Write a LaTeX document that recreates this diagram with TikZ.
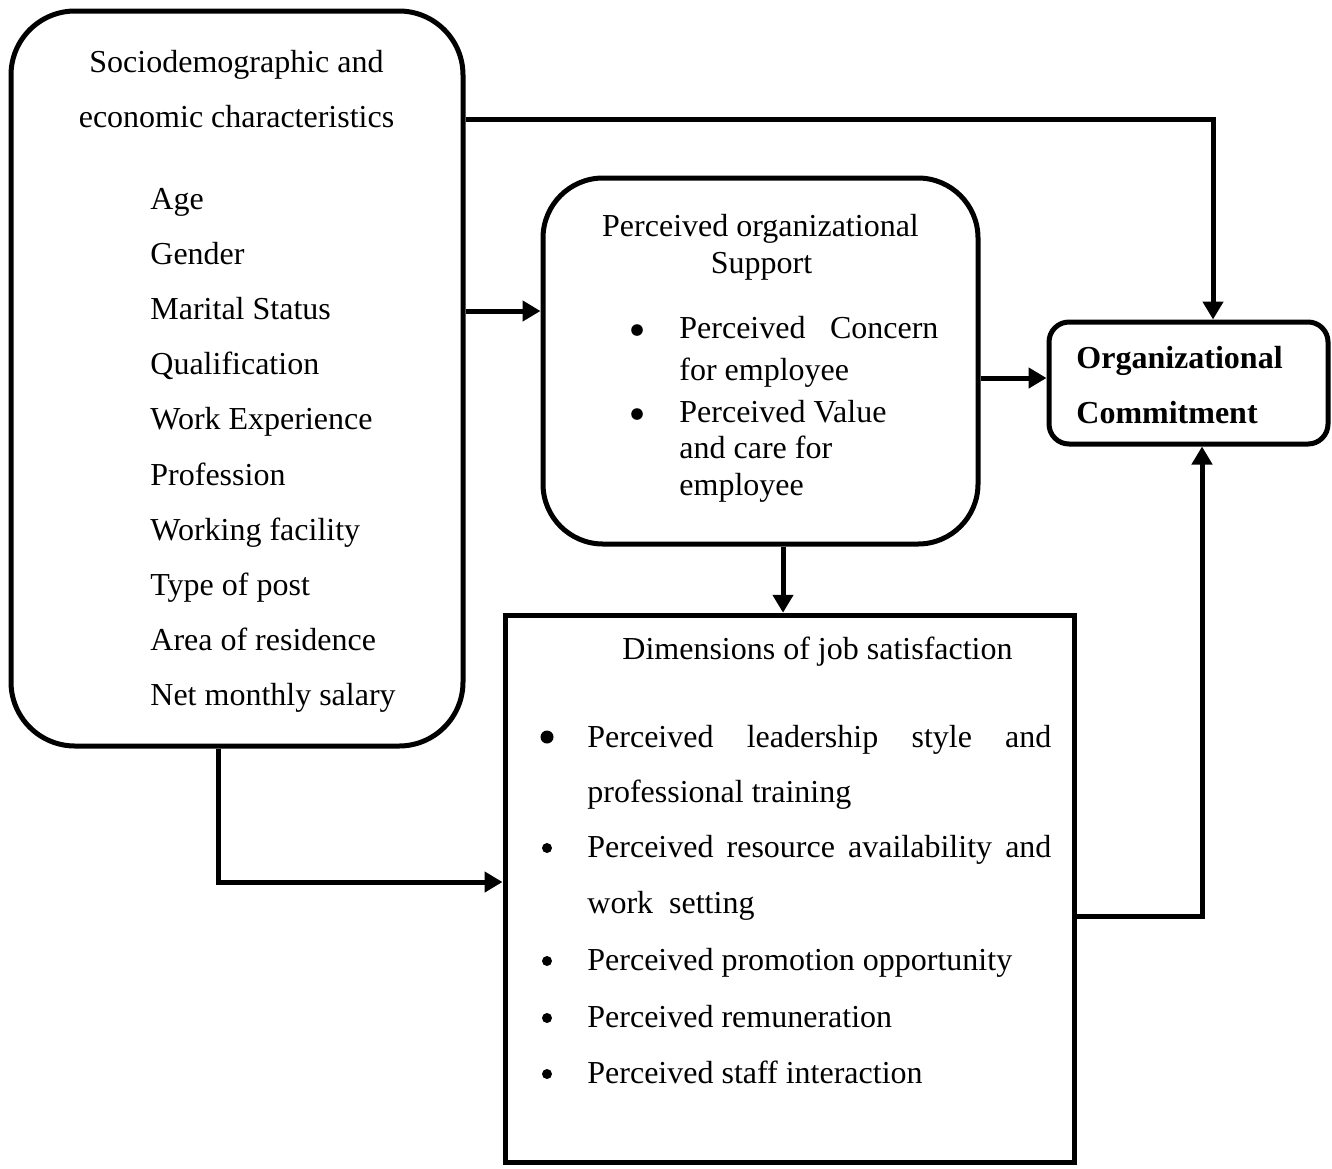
\documentclass[tikz,border=0pt]{standalone}
\usepackage{fontspec}
\setmainfont{Liberation Serif}
\usetikzlibrary{arrows.meta,positioning}

\tikzset{
  box/.style={draw, line width=2.5pt, rounded corners=#1, inner sep=0pt},
  box/.default=0pt,
  txt/.style={inner sep=0pt, font=\fontsize{16}{27.5}\selectfont},
  dot/.style={circle, fill, inner sep=0pt, minimum size=#1},
  dot/.default=5pt,
  line/.style={draw, line width=2.5pt, -{Triangle[length=9pt,width=10pt]}}
}

\begin{document}
\begin{tikzpicture}[x=0.5pt, y=-0.5pt]
\useasboundingbox (0,0) rectangle (1332,1168);

% boxes
\node [box=32pt, minimum width=226pt, minimum height=367.5pt] (soc) at (237,378.5) {};
\node [box=30pt, minimum width=217.5pt, minimum height=183pt] (pos) at (760.5,361) {};
\node [box=0pt, minimum width=284.5pt, minimum height=273.75pt] (dim) at (789.5,889) {};
\node [box=10pt, minimum width=139.5pt, minimum height=61pt] (oc) at (1188.5,383) {};

% sociodemographic characteristics
\node [txt, anchor=base] (soctitle) at (236.5,72) {Sociodemographic and};
\node [txt, anchor=base] (soctitlb) at (236.5,127) {economic characteristics};
\foreach \t [count=\i from 0] in {Age, Gender, Marital Status, Qualification, Work Experience, Profession, Working facility, Type of post, Area of residence, Net monthly salary}
  \node [txt, anchor=base west] (socitem\i) at (150,{209+55.2*\i}) {\t};

% perceived organizational support
\node [txt, anchor=base] (postitle) at (760.5,236) {Perceived organizational};
\node [txt, anchor=base] (postitlb) at (761.5,273) {Support};
\node [dot=5.8pt] (posbul1) at (637,330) {};
\node [txt, anchor=base west] (positem1) at (679,338) {\makebox[129.5pt][s]{Perceived Concern}};
\node [txt, anchor=base west] (positem1b) at (679,380) {for employee};
\node [dot=5.8pt] (posbul2) at (637,414) {};
\node [txt, anchor=base west] (positem2) at (679,422) {Perceived Value};
\node [txt, anchor=base west] (positem2b) at (679,458) {and care for};
\node [txt, anchor=base west] (positem2c) at (679,495) {employee};

% dimensions of job satisfaction
\node [txt, anchor=base] (dimtitle) at (817.5,659) {Dimensions of job satisfaction};
\node [dot=6.5pt] (dimbul1) at (547,737) {};
\node [txt, anchor=base west] (dimitem1) at (587,747) {\makebox[232pt][s]{Perceived leadership style and}};
\node [txt, anchor=base west] (dimitem1b) at (587,802) {professional training};
\node [dot] (dimbul2) at (547,848) {};
\node [txt, anchor=base west] (dimitem2) at (587,857) {\makebox[232pt][s]{Perceived resource availability and}};
\node [txt, anchor=base west] (dimitem2b) at (587,913) {work~ setting};
\node [dot] (dimbul3) at (547,961) {};
\node [txt, anchor=base west] (dimitem3) at (587,970) {Perceived promotion opportunity};
\node [dot] (dimbul4) at (547,1018) {};
\node [txt, anchor=base west] (dimitem4) at (587,1027) {Perceived remuneration};
\node [dot] (dimbul5) at (547,1074) {};
\node [txt, anchor=base west] (dimitem5) at (587,1083) {Perceived staff interaction};

% organizational commitment
\node [txt, anchor=base west, font=\fontsize{16}{27.5}\selectfont\bfseries] (octitle) at (1076,368) {Organizational};
\node [txt, anchor=base west, font=\fontsize{16}{27.5}\selectfont\bfseries] (octitlb) at (1076,423) {Commitment};

% connectors
\coordinate (soctop) at (1213,119);
\coordinate (socmid) at (0,311);
\coordinate (posmid) at (0,378);
\coordinate (posbot) at (783,0);
\coordinate (socbot) at (218,882);
\coordinate (dimmid) at (1202,916);

\path [line] (soc.east |- soctop) -| (oc.north -| soctop);
\path [line] (soc.east |- socmid) -- (pos.west |- socmid);
\path [line] (pos.east |- posmid) -- (oc.west |- posmid);
\path [line] (pos.south -| posbot) -- (dim.north -| posbot);
\path [line] (soc.south -| socbot) |- (dim.west |- socbot);
\path [line] (dim.east |- dimmid) -| (oc.south -| dimmid);
\end{tikzpicture}
\end{document}
